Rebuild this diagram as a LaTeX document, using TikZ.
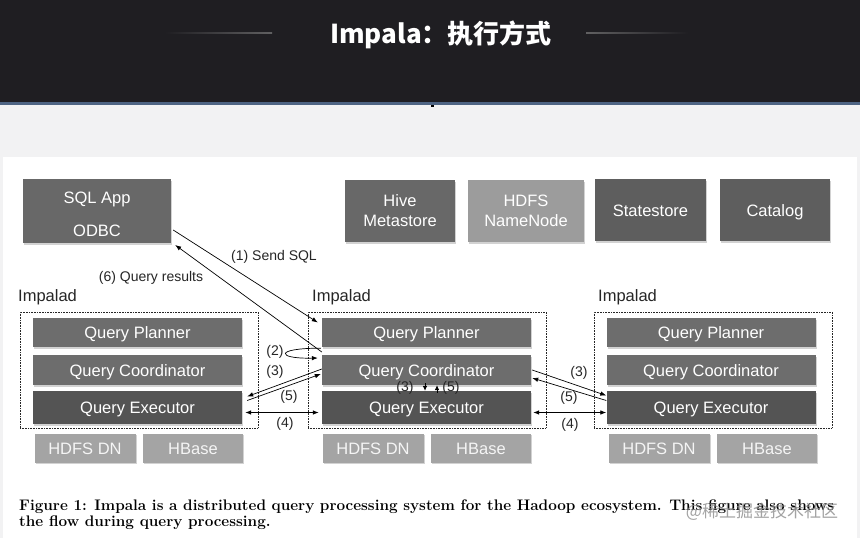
\documentclass[tikz,border=0pt]{standalone}
\usepackage{fontspec}
\setsansfont{Liberation Sans}
\newfontfamily\cjkfont{Noto Sans CJK SC}
\usetikzlibrary{shadows,arrows.meta,calc}
\definecolor{hdr}{HTML}{1F1E22}
\definecolor{hline}{HTML}{4E6483}
\definecolor{bgl}{HTML}{F2F2F3}
\definecolor{gA}{HTML}{6D6D6D}
\definecolor{gB}{HTML}{545454}
\definecolor{gC}{HTML}{A4A4A4}
\definecolor{gD}{HTML}{5E5E5E}
\definecolor{gE}{HTML}{686868}
\definecolor{gF}{HTML}{9C9C9C}
\tikzset{
  box/.style={fill=gA, text=white, inner sep=0pt,
    font=\sffamily\fontsize{16.5}{20}\selectfont,
    drop shadow={shadow xshift=1pt, shadow yshift=-1.5pt, opacity=0.35}},
  oneline/.style={text height=12.6pt, text depth=0pt},
  frame/.style={draw=black!85, densely dotted, line width=0.6pt, inner sep=0pt,
    minimum width=238pt, minimum height=116pt},
  lab/.style={font=\sffamily\fontsize{16.5}{18}\selectfont, text=black!85, inner sep=0pt},
  num/.style={font=\sffamily\fontsize{14}{16}\selectfont, text=black!85, inner sep=0pt},
  captext/.style={font=\fontsize{15.3}{17}\selectfont\bfseries, inner sep=0pt, anchor=base west},
  arr/.style={-{Latex[length=6pt,width=4.5pt]}, line width=0.7pt},
  darr/.style={{Latex[length=6pt,width=4.5pt]}-{Latex[length=6pt,width=4.5pt]}, line width=0.7pt}
}
\begin{document}
\begin{tikzpicture}[x=1pt,y=-1pt]
\useasboundingbox (0,0) rectangle (860,538);
% backgrounds
\fill[bgl] (0,0) rectangle (860,538);
\fill[hdr] (0,0) rectangle (860,102);
\fill[hline] (0,102) rectangle (860,105);
\fill[black] (430.5,104.5) rectangle (433.5,106.5);
\fill[white] (3,157) rectangle (857,538);
\shade[left color=hdr, right color=black!45!white!60!hdr] (165,32.2) rectangle (272,33.6);
\shade[left color=black!45!white!60!hdr, right color=hdr] (586,32.2) rectangle (688,33.6);
\node[font=\cjkfont\bfseries\fontsize{26}{28}\selectfont, text=white, inner sep=0pt] (title) at (441,35) {Impala：执行方式};

% top boxes
\node[box, fill=gE, minimum width=148pt, minimum height=64pt, align=center] (sql) at (97,211)
  {\rule{0pt}{18pt}SQL App\\[13pt]ODBC};
\node[box, fill=gE, minimum width=110pt, minimum height=62pt, align=center] (hive) at (400,211) {Hive\\Metastore};
\node[box, fill=gF, minimum width=116pt, minimum height=62pt, align=center] (nn) at (526,211) {HDFS\\NameNode};
\node[box, oneline, fill=gD, minimum width=111pt, minimum height=62pt] (state) at (650.5,210) {Statestore};
\node[box, oneline, fill=gD, minimum width=110pt, minimum height=62pt] (catalog) at (775,210) {Catalog};

% impalads
\foreach \n/\dx/\dl/\df in {L/0/0/0, M/289/294/288, R/573.5/580/574}{
  \node[frame] (\n-frame) at (139+\df,370) {};
  \node[lab, anchor=west] (\n-imp) at (18+\dl,297) {Impalad};
  \node[box, oneline, fill=gA, minimum width=209pt, minimum height=29pt] (\n-plan) at (137.5+\dx,332.5) {Query Planner};
  \node[box, oneline, fill=gA, minimum width=209pt, minimum height=30pt] (\n-coord) at (137.5+\dx,370) {Query Coordinator};
  \node[box, oneline, fill=gB, minimum width=209pt, minimum height=33pt] (\n-exec) at (137.5+\dx,407.5) {Query Executor};
  \node[box, oneline, fill=gC, text=white!92!gray, minimum width=101pt, minimum height=29pt] (\n-hdfs) at (85+\df,448) {HDFS DN};
  \node[box, oneline, fill=gC, text=white!92!gray, minimum width=100pt, minimum height=29pt] (\n-hbase) at (193+\df,448) {HBase};
}

% (1) and (6)
\draw[arr] ([shift={(2,19)}]sql.east) -- ([shift={(-4,-10)}]M-plan.west);
\draw[arr] ([shift={(0,-18)}]M-coord.west) -- ([shift={(4,34)}]sql.east);
\node[num] (l1) at (274,257) {(1) Send SQL};
\node[num] (l6) at (151,278) {(6) Query results};

% (2) loop
\draw[arr] ([shift={(-1,1)}]M-plan.south west) .. controls (274,348) and (276,359) .. ([shift={(-4,-12)}]M-coord.west);
\node[num] (l2) at (275,352) {(2)};

% left side (3)(5)(4)
\draw[arr] ([shift={(0,-1)}]M-coord.west) -- ([shift={(5,-11)}]L-exec.east);
\draw[arr] ([shift={(5,-7)}]L-exec.east) -- ([shift={(-1,4)}]M-coord.west);
\draw[darr] ([shift={(3,5)}]L-exec.east) -- ([shift={(-3,5)}]M-exec.west);
\node[num] (l3a) at (275,372) {(3)};
\node[num] (l5a) at (289,397) {(5)};
\node[num] (l4a) at (285,424) {(4)};

% right side (3)(5)(4)
\draw[arr] ([shift={(1,0)}]M-coord.east) -- ([shift={(0,-12)}]R-exec.west);
\draw[arr] ([shift={(0,-7)}]R-exec.west) -- ([shift={(1,8)}]M-coord.east);
\draw[darr] ([shift={(2,5)}]M-exec.east) -- ([shift={(0,5)}]R-exec.west);
\node[num] (l3b) at (579,373) {(3)};
\node[num] (l5b) at (569,398) {(5)};
\node[num] (l4b) at (570,425) {(4)};

% middle vertical
\draw[-{Latex[length=5pt,width=4.5pt]}, line width=0.7pt] ([xshift=-1.5pt, yshift=2pt]M-coord.south) -- ([xshift=-1.5pt]M-exec.north);
\draw[-{Latex[length=5pt,width=4.5pt]}, line width=0.7pt] ([xshift=10.5pt, yshift=-2pt]M-exec.north) -- ([xshift=10.5pt]M-coord.south);
\node[num] (l3c) at (405,388) {(3)};
\node[num] (l5c) at (451,388) {(5)};

% caption
\node[captext] (cap1) at (19,510)
  {\makebox[815pt][s]{Figure 1: Impala is a distributed query processing system for the Hadoop ecosystem. This figure also shows}};
\node[captext] (cap2) at (19,526) {the flow during query processing.};
\node[font=\cjkfont\fontsize{17}{19}\selectfont, text=black!45, opacity=0.8, inner sep=0pt] (wm) at (762,512) {@稀土掘金技术社区};
\end{tikzpicture}
\end{document}
